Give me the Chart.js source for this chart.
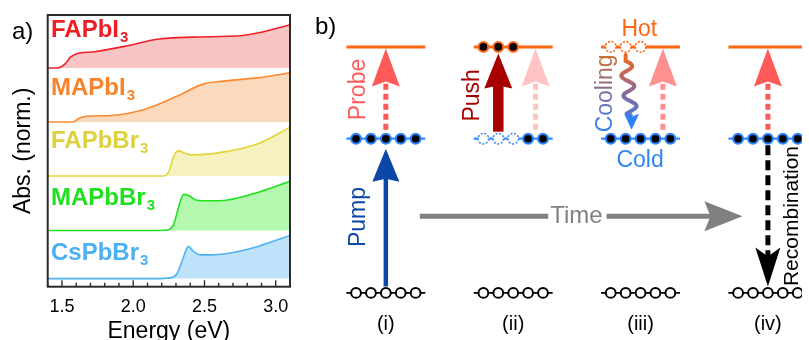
<!DOCTYPE html>
<html><head><meta charset="utf-8">
<script src="https://cdn.jsdelivr.net/npm/chart.js@4.4.1/dist/chart.umd.min.js"></script>
<style>
html,body{margin:0;padding:0;background:#fff;}
#wrap{position:relative;width:809px;height:340px;overflow:hidden;background:#fff;}
#ca{position:absolute;left:0;top:0;}
#cb{position:absolute;left:300px;top:0;}
</style></head><body>
<div id="wrap"><canvas id="ca" width="300" height="340"></canvas><canvas id="cb" width="509" height="340"></canvas></div>
<script>
// ================= Panel a: data =================
const sampleNames = ['FAPbI3', 'MAPbI3', 'FAPbBr3', 'MAPbBr3', 'CsPbBr3'];
const stackOffsets = [3.9, 2.9, 1.9, 0.89, 0];

const energyFAPbI3 = [1.40, 1.47, 1.52, 1.56, 1.60, 1.73, 1.96, 2.17, 2.42, 2.77, 2.88, 3.10];
const absFAPbI3    = [0.00, 0.00, 0.07, 0.20, 0.26, 0.30, 0.41, 0.53, 0.57, 0.60, 0.65, 0.80];

const energyMAPbI3 = [1.40, 1.58, 1.615, 1.66, 1.845, 2.076, 2.31, 2.49, 2.65, 2.88, 3.10];
const absMAPbI3    = [0.00, 0.00, 0.06, 0.10, 0.12, 0.23, 0.48, 0.70, 0.76, 0.82, 0.91];

const energyFAPbBr3 = [1.40, 2.21, 2.25, 2.284, 2.318, 2.353, 2.41, 2.65, 2.88, 3.10];
const absFAPbBr3    = [0.00, 0.00, 0.08, 0.36, 0.47, 0.43, 0.39, 0.45, 0.60, 0.90];

const energyMAPbBr3 = [1.40, 2.10, 2.237, 2.284, 2.318, 2.353, 2.387, 2.445, 2.55, 2.65, 2.88, 3.10];
const absMAPbBr3    = [0.00, 0.00, 0.01, 0.12, 0.43, 0.67, 0.65, 0.56, 0.55, 0.56, 0.71, 0.91];

const energyCsPbBr3 = [1.40, 2.15, 2.26, 2.307, 2.353, 2.387, 2.42, 2.468, 2.55, 2.65, 2.88, 3.10];
const absCsPbBr3    = [0.00, 0.00, 0.013, 0.09, 0.40, 0.60, 0.51, 0.44, 0.44, 0.46, 0.60, 0.80];

const energyTickLabels = ['1.5', '2.0', '2.5', '3.0'];

// ================= Panel b: data =================
const columnLabels = ['(i)', '(ii)', '(iii)', '(iv)'];       // columns at x = 1..4
const levelGround = 0, levelCold = 1, levelHot = 1.595;
const slotIndex = [-2, -1, 0, 1, 2];
const groundStates = ['OOOOO', 'OOOOO', 'OOOOO', 'OOOOO'];  // O open circle
const coldStates   = ['FFFFF', 'DDDFF', 'FFFFF', 'FFFFF'];  // F filled, D dotted empty
const hotStates    = ['-----', 'FFF--', 'DDD--', '-----'];
const probeSlots = [0, 1.5, 1.5, 0];
const pumpColumn = 1, pumpSlot = 0;
const pushColumn = 2, pushSlot = -1;
const coolingColumn = 3, coolingSlots = [-1, -0.6];
const recombColumn = 4, recombSlot = 0;
const timeStart = 1.267, timeEnd = 3.80, timeLevel = 0.497, timeGap = [2.275, 2.733];

// ================= styles =================
const FONT = 'Liberation Sans, Arial, sans-serif';
Chart.defaults.font.family = FONT;
const lineColors  = ['#f0202a', '#fb8a2e', '#e2d43a', '#22e022', '#4fb2f2'];
const fillColors  = ['#f9c4c4', '#fad9bd', '#f5f2c0', '#b4f7ae', '#bfe2fb'];
const labelColors = ['#ef1d26', '#f7842a', '#ddd23e', '#1fe01f', '#4ab0f2'];
const labelEnergy = 1.423;
const labelY = [4.465, 3.40, 2.41, 1.363, 0.344];

const seriesE = [energyFAPbI3, energyMAPbI3, energyFAPbBr3, energyMAPbBr3, energyCsPbBr3];
const seriesA = [absFAPbI3, absMAPbI3, absFAPbBr3, absMAPbBr3, absCsPbBr3];

const panelAPlugin = {
  id: 'panelA',
  afterDatasetsDraw(chart) {
    const {ctx, chartArea: a, scales: {x, y}} = chart;
    ctx.save();
    ctx.strokeStyle = '#222'; ctx.lineWidth = 1.3;
    x.ticks.forEach(t => {
      const p = x.getPixelForValue(t.value);
      const major = Math.round(t.value * 10) % 5 === 0;
      ctx.beginPath(); ctx.moveTo(p, a.bottom); ctx.lineTo(p, a.bottom - (major ? 6.5 : 4)); ctx.stroke();
    });
    ctx.lineWidth = 2; ctx.strokeStyle = '#2a2a2a';
    ctx.strokeRect(a.left, a.top, a.right - a.left, a.bottom - a.top);
    sampleNames.forEach((n, i) => {
      const main = n.slice(0, -1), sub = n.slice(-1);
      const px = x.getPixelForValue(labelEnergy), py = y.getPixelForValue(labelY[i]);
      ctx.fillStyle = labelColors[i];
      ctx.textAlign = 'left'; ctx.textBaseline = 'alphabetic';
      ctx.font = 'bold 24px ' + FONT;
      ctx.fillText(main, px, py);
      const w = ctx.measureText(main).width;
      ctx.font = 'bold 15px ' + FONT;
      ctx.fillText(sub, px + w + 1, py + 5);
    });
    ctx.fillStyle = '#000'; ctx.font = '24px ' + FONT;
    ctx.fillText('a)', 12, 39);
    ctx.restore();
  }
};

new Chart(document.getElementById('ca'), {
  type: 'line',
  data: {
    datasets: sampleNames.map((n, i) => ({
      label: n,
      data: seriesE[i].map((e, j) => ({x: e, y: seriesA[i][j] + stackOffsets[i]})),
      borderColor: lineColors[i], backgroundColor: fillColors[i], borderWidth: 1.6,
      pointRadius: 0, fill: {value: stackOffsets[i]}, cubicInterpolationMode: 'monotone'
    }))
  },
  options: {
    animation: false, responsive: false, devicePixelRatio: 1,
    layout: {padding: {top: 15, right: 8, left: 0, bottom: 0}},
    plugins: {legend: {display: false}, tooltip: {enabled: false}},
    scales: {
      x: {
        type: 'linear', min: 1.4, max: 3.1,
        ticks: {
          stepSize: 0.1, autoSkip: false, maxRotation: 0, color: '#000', padding: 10,
          font: {size: 18},
          callback: v => { const s = (Math.round(v * 10) / 10).toFixed(1); return energyTickLabels.includes(s) ? s : ''; }
        },
        grid: {display: false, drawTicks: false}, border: {display: false},
        title: {display: true, text: 'Energy (eV)', color: '#000', font: {size: 23, lineHeight: 0.72}, padding: {top: 0, bottom: 0}},
        afterFit: s => { s.height = 53.3; }
      },
      y: {
        type: 'linear', min: -0.15, max: 4.88,
        ticks: {display: false}, grid: {display: false, drawTicks: false}, border: {display: false},
        title: {display: true, text: 'Abs. (norm.)', color: '#000', font: {size: 23, lineHeight: 1.2}, padding: {top: 10, bottom: 0}},
        afterFit: s => { s.width = 47.7; }
      }
    }
  },
  plugins: [panelAPlugin]
});

// ================= Panel b =================
const SLOT = 0.117, HALF = 0.31;
const cOrange = '#ff6712', cBlue = '#3a8bff', cPump = '#0b46a8', cPush = '#a80000';
const probeColors = ['#ff5a5a', '#ffc3c3', '#ff9090', '#ff5a5a'];

const levelDatasets = [];
[[levelHot, cOrange, 3], [levelCold, cBlue, 2.2], [levelGround, '#000', 1.8]].forEach(([L, col, w]) => {
  columnLabels.forEach((_, c) => {
    levelDatasets.push({type: 'line', data: [{x: c + 1 - HALF, y: L}, {x: c + 1 + HALF, y: L}],
      borderColor: col, borderWidth: w, pointRadius: 0, showLine: true, order: 2});
  });
});
function pointsFor(states, level, ch) {
  const out = [];
  states.forEach((s, c) => { for (let k = 0; k < 5; k++) if (s[k] === ch) out.push({x: c + 1 + slotIndex[k] * SLOT, y: level}); });
  return out;
}
const circleDatasets = [
  {data: pointsFor(groundStates, levelGround, 'O'), pointRadius: 4.9, pointBorderWidth: 2, pointBackgroundColor: '#fff', pointBorderColor: '#000', order: 0},
  {data: pointsFor(coldStates, levelCold, 'F'), pointRadius: 4.9, pointBorderWidth: 2.2, pointBackgroundColor: '#000', pointBorderColor: 'rgba(40,130,255,0.95)', order: 0},
  {data: pointsFor(hotStates, levelHot, 'F'), pointRadius: 4.9, pointBorderWidth: 2.2, pointBackgroundColor: '#000', pointBorderColor: 'rgba(255,105,25,0.95)', order: 0}
];

function arrow(ctx, x1, y1, x2, y2, o) {
  const dx = x2 - x1, dy = y2 - y1, L = Math.hypot(dx, dy), ux = dx / L, uy = dy / L;
  const nx = -uy, ny = ux;
  const bx = x2 - ux * o.head, by = y2 - uy * o.head;
  const qx = bx + ux * o.notch, qy = by + uy * o.notch;
  ctx.save();
  ctx.strokeStyle = o.color; ctx.lineWidth = o.width; ctx.lineCap = 'butt';
  if (o.dash) ctx.setLineDash(o.dash);
  ctx.beginPath(); ctx.moveTo(x1, y1); ctx.lineTo(qx + ux * 1, qy + uy * 1); ctx.stroke();
  ctx.setLineDash([]);
  ctx.fillStyle = o.color;
  ctx.beginPath(); ctx.moveTo(x2, y2);
  ctx.lineTo(bx + nx * o.hw, by + ny * o.hw); ctx.lineTo(qx, qy); ctx.lineTo(bx - nx * o.hw, by - ny * o.hw);
  ctx.closePath(); ctx.fill();
  ctx.restore();
}
function text(ctx, t, x, y, size, color, rot) {
  ctx.save(); ctx.translate(x, y); if (rot) ctx.rotate(-Math.PI / 2);
  ctx.font = size + 'px ' + FONT; ctx.textAlign = 'center'; ctx.textBaseline = 'middle';
  if (typeof color === 'function') ctx.fillStyle = color(ctx, ctx.measureText(t).width); else ctx.fillStyle = color;
  ctx.fillText(t, 0, 0); ctx.restore();
}

const textLayout = [
  {t: 'Probe', x: 0.786, y: 1.319, rot: true, size: 23, color: probeColors[0]},
  {t: 'Pump', x: 0.786, y: 0.4925, rot: true, size: 23, color: cPump},
  {t: 'Push', x: 1.679, y: 1.281, rot: true, size: 23, color: cPush},
  {t: 'Hot', x: 2.99, y: 1.707, size: 23, color: cOrange},
  {t: 'Cold', x: 2.996, y: 0.859, size: 23, color: '#2f86f5'},
  {t: 'Time', x: 2.496, y: 0.497, size: 24, color: '#808080'},
  {t: 'Recombination', x: 4.19, y: 0.4987, rot: true, size: 21, color: '#000'}
];

const panelBPlugin = {
  id: 'panelB',
  afterDatasetsDraw(chart) {
    const {ctx, scales: {x, y}} = chart;
    const X = v => x.getPixelForValue(v), Y = v => y.getPixelForValue(v);
    ctx.save();
    // dotted (empty) states
    [[coldStates, levelCold, cBlue], [hotStates, levelHot, cOrange]].forEach(([states, L, col]) => {
      states.forEach((s, c) => { for (let k = 0; k < 5; k++) if (s[k] === 'D') {
        ctx.beginPath(); ctx.arc(X(c + 1 + slotIndex[k] * SLOT), Y(L), 5.3, 0, Math.PI * 2);
        ctx.fillStyle = '#fff'; ctx.fill();
        ctx.setLineDash([2, 1.6]); ctx.lineWidth = 1.6; ctx.strokeStyle = col; ctx.stroke(); ctx.setLineDash([]);
      }});
    });
    // probe arrows
    probeSlots.forEach((s, c) => {
      const xx = X(c + 1 + s * SLOT);
      arrow(ctx, xx, Y(levelCold) - 9, xx, Y(levelHot) + 1.5, {color: probeColors[c], width: 5, dash: [6, 4], head: 38, hw: 14, notch: 5});
    });
    // pump
    let xx = X(pumpColumn + pumpSlot * SLOT);
    arrow(ctx, xx, Y(levelGround) - 6.5, xx, Y(levelCold) + 10, {color: cPump, width: 4.5, head: 33, hw: 13.5, notch: 3});
    // push
    xx = X(pushColumn + pushSlot * SLOT);
    arrow(ctx, xx, Y(levelCold) - 7, xx, Y(levelHot) + 6.5, {color: cPush, width: 10.5, head: 35, hw: 14, notch: 3});
    // recombination
    xx = X(recombColumn + recombSlot * SLOT);
    arrow(ctx, xx, Y(levelCold) + 6.5, xx, Y(levelGround) - 6.5, {color: '#000', width: 5, dash: [10, 5], head: 39, hw: 12.5, notch: 9});
    // time arrow
    const ty = Y(timeLevel);
    ctx.strokeStyle = '#808080'; ctx.lineWidth = 5;
    ctx.beginPath(); ctx.moveTo(X(timeStart), ty); ctx.lineTo(X(timeGap[0]), ty); ctx.stroke();
    arrow(ctx, X(timeGap[1]), ty, X(timeEnd), ty, {color: '#808080', width: 5, head: 38, hw: 15, notch: 6});
    // cooling wavy arrow
    const cx0 = X(coolingColumn + coolingSlots[0] * SLOT), cx1 = X(coolingColumn + coolingSlots[1] * SLOT);
    const y0 = Y(levelHot) + 8, tipY = Y(levelCold) - 9, headLen = 16, baseY = tipY - headLen;
    const grad = ctx.createLinearGradient(0, y0, 0, tipY);
    grad.addColorStop(0, '#f06a1c'); grad.addColorStop(0.5, '#8c6a96'); grad.addColorStop(1, '#2d82f5');
    ctx.strokeStyle = grad; ctx.lineWidth = 4; ctx.lineCap = 'round';
    ctx.beginPath(); ctx.moveTo(cx0, y0);
    const waveTop = y0 + 6, waveBot = baseY + 2;
    ctx.lineTo(cx0, waveTop);
    for (let yy = waveTop; yy <= waveBot; yy += 0.5) {
      const f = (yy - waveTop) / (waveBot - waveTop);
      const xc = cx0 + (cx1 - cx0) * f + 6 * Math.sin(2 * Math.PI * (yy - waveTop) / 20) * (f < 0.96 ? 1 : (1 - f) / 0.04);
      ctx.lineTo(xc, yy);
    }
    ctx.stroke();
    ctx.fillStyle = '#2d82f5';
    ctx.beginPath(); ctx.moveTo(cx1, tipY); ctx.lineTo(cx1 - 7.5, baseY); ctx.lineTo(cx1, baseY + 3); ctx.lineTo(cx1 + 7.5, baseY); ctx.closePath(); ctx.fill();
    // texts
    textLayout.forEach(o => text(ctx, o.t, X(o.x), Y(o.y), o.size, o.color, o.rot));
    text(ctx, 'Cooling', X(2.725), Y(1.294), 23, (c, w) => {
      const g = c.createLinearGradient(-w / 2, 0, w / 2, 0);
      g.addColorStop(0, '#2d82f5'); g.addColorStop(0.5, '#7a6ea0'); g.addColorStop(1, '#d2702e'); return g;
    }, true);
    columnLabels.forEach((t, c) => text(ctx, t, X(c + 1), Y(levelGround) + 32, 20, '#000'));
    ctx.fillStyle = '#000'; ctx.font = '24px ' + FONT; ctx.textAlign = 'left'; ctx.textBaseline = 'alphabetic';
    ctx.fillText('b)', 15, 34);
    ctx.restore();
  }
};

new Chart(document.getElementById('cb'), {
  type: 'scatter',
  data: {datasets: [...circleDatasets, ...levelDatasets]},
  options: {
    animation: false, responsive: false, devicePixelRatio: 1,
    layout: {padding: 0},
    plugins: {legend: {display: false}, tooltip: {enabled: false}},
    scales: {
      x: {type: 'linear', display: false, min: 0.3817, max: 4.267},
      y: {type: 'linear', display: false, min: -0.259, max: 1.853}
    }
  },
  plugins: [panelBPlugin]
});
</script>
</body></html>
